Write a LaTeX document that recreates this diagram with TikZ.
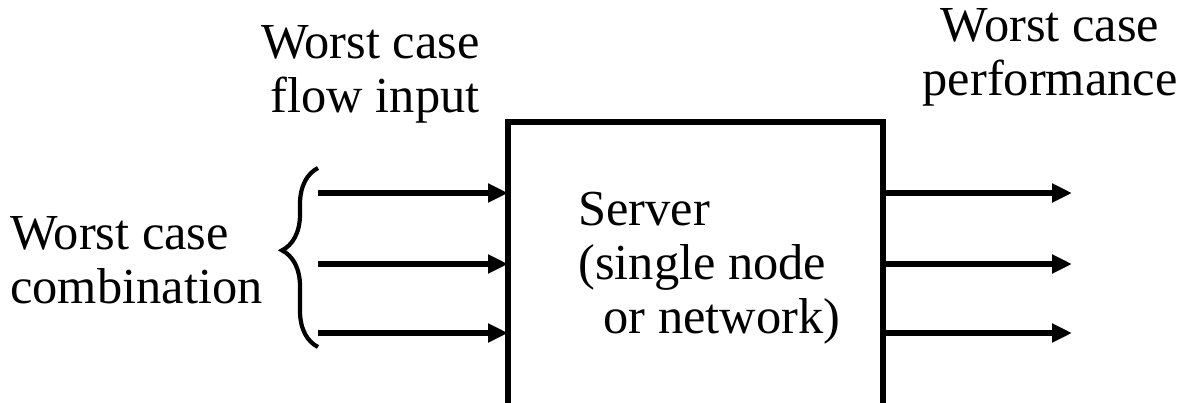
\documentclass[tikz,border=0pt]{standalone}
\usepackage{fontspec}
\setmainfont{Liberation Serif}
\usetikzlibrary{arrows.meta}
\usetikzlibrary{decorations.pathreplacing}

\begin{document}
\begin{tikzpicture}[
  flow/.style={line width=3.2pt, -{Triangle[length=4mm,width=3.6mm]}},
  lbl/.style={inner sep=0pt, font=\fontsize{28.7}{30.5}\selectfont}]
\useasboundingbox (0,0) rectangle (23.6,8.04);
\node[draw, line width=3pt, minimum width=7.5cm, minimum height=6.8cm, inner sep=0, outer sep=0, anchor=north west] (srv) at (10.16,5.6) {};
\node[lbl, align=left, anchor=base west] (srvtxt) at (11.56,1.38) {Server\\(single node\\\hspace{0.5em}or network)};
\node[lbl, align=right, anchor=base east] (fin) at (9.6,5.8) {Worst case\\flow input};
\node[lbl, align=center, anchor=base] (perf) at (21.0,6.14) {Worst case\\performance};
\node[lbl, align=left, anchor=base west] (comb) at (0.2,1.98) {Worst case\\combination};
\draw[line width=2.4pt, decorate, decoration={brace, amplitude=0.72cm, aspect=0.54}] (6.36,1.1) -- (6.36,4.68);
\foreach \y [count=\i] in {4.18,2.76,1.38} {
  \coordinate (in\i) at (6.36,\y);
  \coordinate (out\i) at (21.44,\y);
  \draw[flow] (in\i) -- (in\i -| srv.west);
  \draw[flow] (out\i -| srv.east) -- (out\i);
}
\end{tikzpicture}
\end{document}
